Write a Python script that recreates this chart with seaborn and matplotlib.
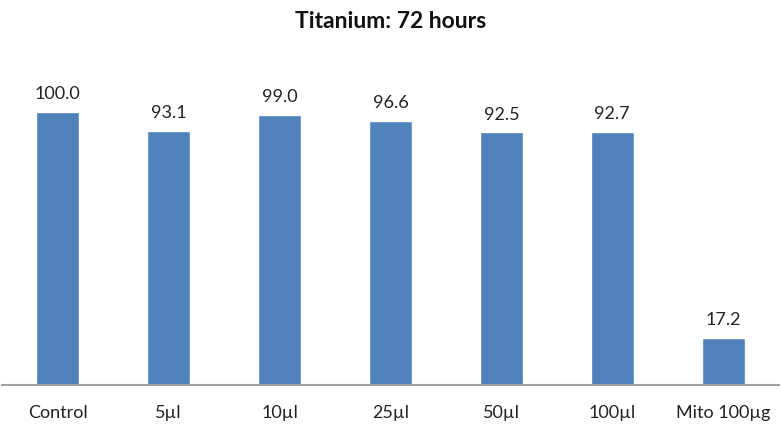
import numpy as np
import pandas as pd
import seaborn as sns
import matplotlib
matplotlib.use("Agg")
import matplotlib.pyplot as plt

categories = ["Control", "5\u00b5l", "10\u00b5l", "25\u00b5l", "50\u00b5l", "100\u00b5l", "Mito 100\u00b5g"]
values = [100.0, 93.1, 99.0, 96.6, 92.5, 92.7, 17.2]

df = pd.DataFrame({"group": categories, "viability": values})

sns.set_style("white")
plt.rcParams["font.family"] = ["Lato", "DejaVu Sans"]

fig = plt.figure(figsize=(7.81, 4.35), dpi=100)
ax = fig.add_axes([0.003, 0.1126, 0.994, 0.7532])

sns.barplot(data=df, x="group", y="viability", color="#4F81BD",
            width=0.39, saturation=1, ax=ax)

for i, v in enumerate(values):
    ax.text(i, v + 4, f"{v:.1f}", ha="center", va="bottom", fontsize=13, color="#222222")

ax.set_ylim(0, 120)
ax.set_xlim(-0.5, len(categories) - 0.5)
ax.set_yticks([])
ax.set_xlabel("")
ax.set_ylabel("")
for s in ["top", "right", "left"]:
    ax.spines[s].set_visible(False)
ax.spines["bottom"].set_color("#A0A0A0")
ax.spines["bottom"].set_linewidth(1.5)
ax.tick_params(axis="x", length=0, labelsize=13, pad=14, colors="#222222")

fig.suptitle("Titanium: 72 hours", y=0.975, fontsize=16.5, fontweight="bold", color="#111111")

fig.savefig("out.png", dpi=100)
